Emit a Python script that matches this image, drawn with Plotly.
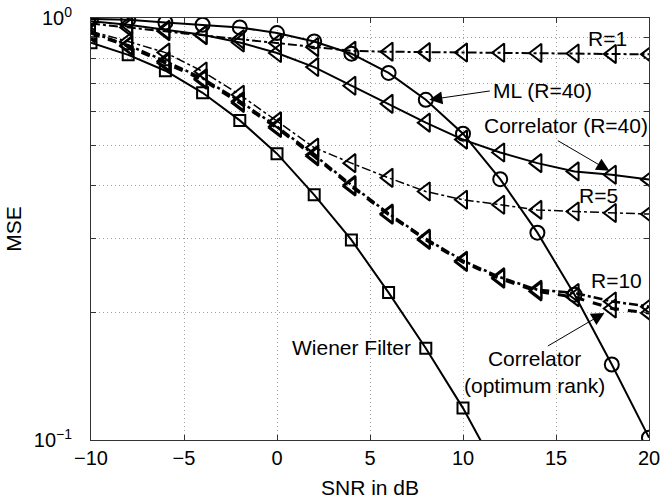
import numpy as np
import plotly.graph_objects as go

snr = [-10, -8, -6, -4, -2, 0, 2, 4, 6, 8, 10, 12, 14, 16, 18, 20]

ml_r40 = [0.995, 0.991, 0.976, 0.964, 0.950, 0.921, 0.880, 0.823, 0.741, 0.640,
          0.532, 0.415, 0.310, 0.221, 0.151, 0.1013]
corr_r40 = [0.982, 0.964, 0.938, 0.913, 0.875, 0.826, 0.765, 0.691, 0.626, 0.565,
            0.515, 0.480, 0.453, 0.433, 0.425, 0.414]
corr_r1 = [0.970, 0.950, 0.930, 0.910, 0.890, 0.872, 0.853, 0.836, 0.832, 0.830,
           0.828, 0.827, 0.826, 0.824, 0.822, 0.820]
corr_r5 = [0.930, 0.880, 0.828, 0.747, 0.658, 0.569, 0.493, 0.453, 0.418, 0.388,
           0.371, 0.361, 0.351, 0.348, 0.345, 0.343]
corr_r10 = [0.925, 0.862, 0.790, 0.720, 0.635, 0.553, 0.474, 0.402, 0.344, 0.300,
            0.266, 0.243, 0.227, 0.223, 0.213, 0.207]
corr_opt = [0.920, 0.857, 0.782, 0.714, 0.629, 0.549, 0.470, 0.399, 0.342, 0.298,
            0.264, 0.241, 0.225, 0.218, 0.205, 0.200]
wiener_snr = [-10, -8, -6, -4, -2, 0, 2, 4, 6, 8, 10, 12]
wiener = [0.874, 0.818, 0.750, 0.665, 0.572, 0.477, 0.381, 0.298, 0.2235, 0.165,
          0.119, 0.082]

x_ticks = [-10, -5, 0, 5, 10, 15, 20]
x_ticktext = ["\u221210", "\u22125", "0", "5", "10", "15", "20"]
y_ticks = [0.1, 0.2, 0.3, 0.4, 0.5, 0.6, 0.7, 0.8, 0.9, 1.0]
y_ticktext = ["10<sup>\u22121</sup>", "", "", "", "", "", "", "", "", "10<sup>0</sup>"]

FONT = "Liberation Sans, Arial, Helvetica, sans-serif"
K = "black"

fig = go.Figure()

def add(x, y, symbol, dash, width, msize, name):
    fig.add_trace(go.Scatter(
        x=x, y=y, mode="lines+markers", name=name,
        line=dict(color=K, width=width, dash=dash),
        marker=dict(symbol=symbol, size=msize, color=K,
                    line=dict(color=K, width=2)),
    ))

add(snr, corr_r1, "triangle-left-open", "dashdot", 2, 16, "R=1")
add(snr, corr_r5, "triangle-left-open", "dashdot", 1.5, 16, "R=5")
add(snr, corr_r10, "triangle-left-open", "dashdot", 2.5, 16, "R=10")
add(snr, corr_opt, "triangle-left-open", "dash", 3, 16, "Correlator (optimum rank)")
add(snr, corr_r40, "triangle-left-open", "solid", 2, 16, "Correlator (R=40)")
add(snr, ml_r40, "circle-open", "solid", 2, 14, "ML (R=40)")
add(wiener_snr, wiener, "square-open", "solid", 2, 11, "Wiener Filter")

fs = 20
fa = 21
ann = []
def text(x, ylog, t, xanchor="center"):
    ann.append(dict(x=x, y=ylog, xref="x", yref="y", text=t, showarrow=False,
                    xanchor=xanchor, yanchor="middle",
                    font=dict(family=FONT, size=fa, color=K)))

def arrow(x, ylog, ax, ay):
    ann.append(dict(x=x, y=ylog, xref="x", yref="y", text="", showarrow=True,
                    ax=ax, ay=ay, arrowhead=2, arrowsize=2.6, arrowwidth=1,
                    arrowcolor=K, standoff=0, startstandoff=0))

text(17.76, -0.049, "R=1")
text(11.5, -0.1724, "ML (R=40)", "left")
arrow(8.19, -0.1937, 62, -9)
text(11.0, -0.2554, "Correlator (R=40)", "left")
arrow(17.87, -0.3621, -53, -31)
text(17.27, -0.4214, "R=5")
text(18.25, -0.623, "R=10")
text(13.84, -0.8388, "Correlator<br>(optimum rank)")
arrow(17.6, -0.6988, -58, 34)
text(7.33, -0.7818, "Wiener Filter", "right")

axis_common = dict(
    showline=True, linecolor="#333333", linewidth=1, mirror="ticks",
    ticks="inside", ticklen=5, tickcolor="#333333",
    showgrid=True, gridcolor="#a0a0a0", griddash="1px,3px", gridwidth=1,
    zeroline=False, ticklabeloverflow="allow",
    tickfont=dict(family=FONT, size=fs, color=K),
)

fig.update_layout(
    width=660, height=502,
    margin=dict(l=91, r=11, t=18, b=62, autoexpand=False),
    paper_bgcolor="white", plot_bgcolor="white",
    showlegend=False,
    font=dict(family=FONT, size=fs, color=K),
    annotations=ann,
    xaxis=dict(range=[-10, 20], tickvals=x_ticks, ticktext=x_ticktext,
               title=dict(text="SNR in dB", font=dict(family=FONT, size=fa, color=K), standoff=12),
               automargin=False, **axis_common),
    yaxis=dict(type="log", range=[-1, 0], tickvals=y_ticks, ticktext=y_ticktext,
               ticklabelstandoff=14,
               title=dict(text="MSE", font=dict(family=FONT, size=fa, color=K), standoff=6),
               automargin=False, **axis_common),
)

fig.write_html("out.html")
